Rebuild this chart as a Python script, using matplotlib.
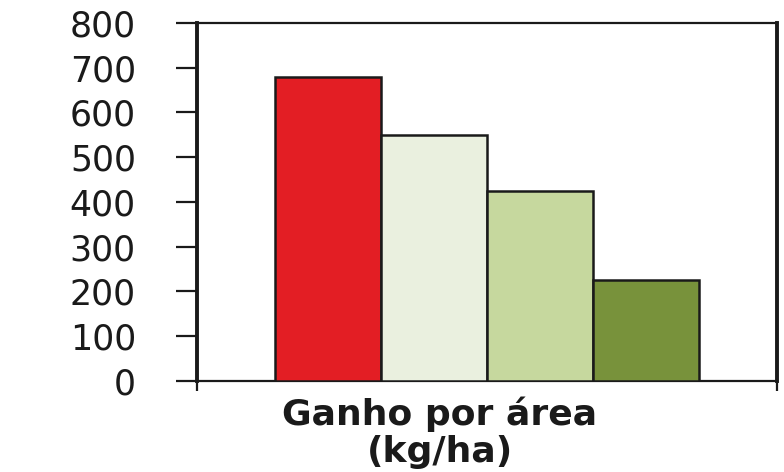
import matplotlib
matplotlib.use("Agg")
import matplotlib.pyplot as plt

# gain per area by treatment (kg/ha)
treatments = ["T1", "T2", "T3", "T4"]
gain = [680, 550, 425, 225]
bar_colors = ["#E31E24", "#EAF0DF", "#C6D89E", "#78923B"]
yticks = [0, 100, 200, 300, 400, 500, 600, 700, 800]

plt.rcParams["font.family"] = ["DejaVu Sans"]
EDGE = "#1a1a1a"

fig = plt.figure(figsize=(7.84, 4.72), dpi=100)
ax = fig.add_axes([0.2513, 0.1928, 0.7397, 0.7585])

x = list(range(len(treatments)))
ax.bar(x, gain, width=1.0, color=bar_colors, edgecolor=EDGE, linewidth=1.8, zorder=3)

xmin, xmax = -1.236, 4.234
ax.set_xlim(xmin, xmax)
ax.set_ylim(0, 800)

ax.set_yticks(yticks)
ax.set_yticklabels([str(v) for v in yticks], fontsize=25, color="#1a1a1a")
ax.set_xticks([xmin, xmax])
ax.set_xticklabels(["", ""])

ax.tick_params(axis="y", direction="out", length=15, width=1.6, color=EDGE, pad=29)
ax.tick_params(axis="x", direction="out", length=7, width=1.6, color=EDGE)

for side in ["left", "right"]:
    ax.spines[side].set_linewidth(2.8)
for side in ["top", "bottom"]:
    ax.spines[side].set_linewidth(1.6)
for s in ax.spines.values():
    s.set_color(EDGE)

fig.text(0.561, 0.160, "Ganho por área\n(kg/ha)", ha="center", va="top",
         fontsize=26, fontweight="bold", color="#1a1a1a", linespacing=1.12)

fig.savefig("out.png", dpi=100)
